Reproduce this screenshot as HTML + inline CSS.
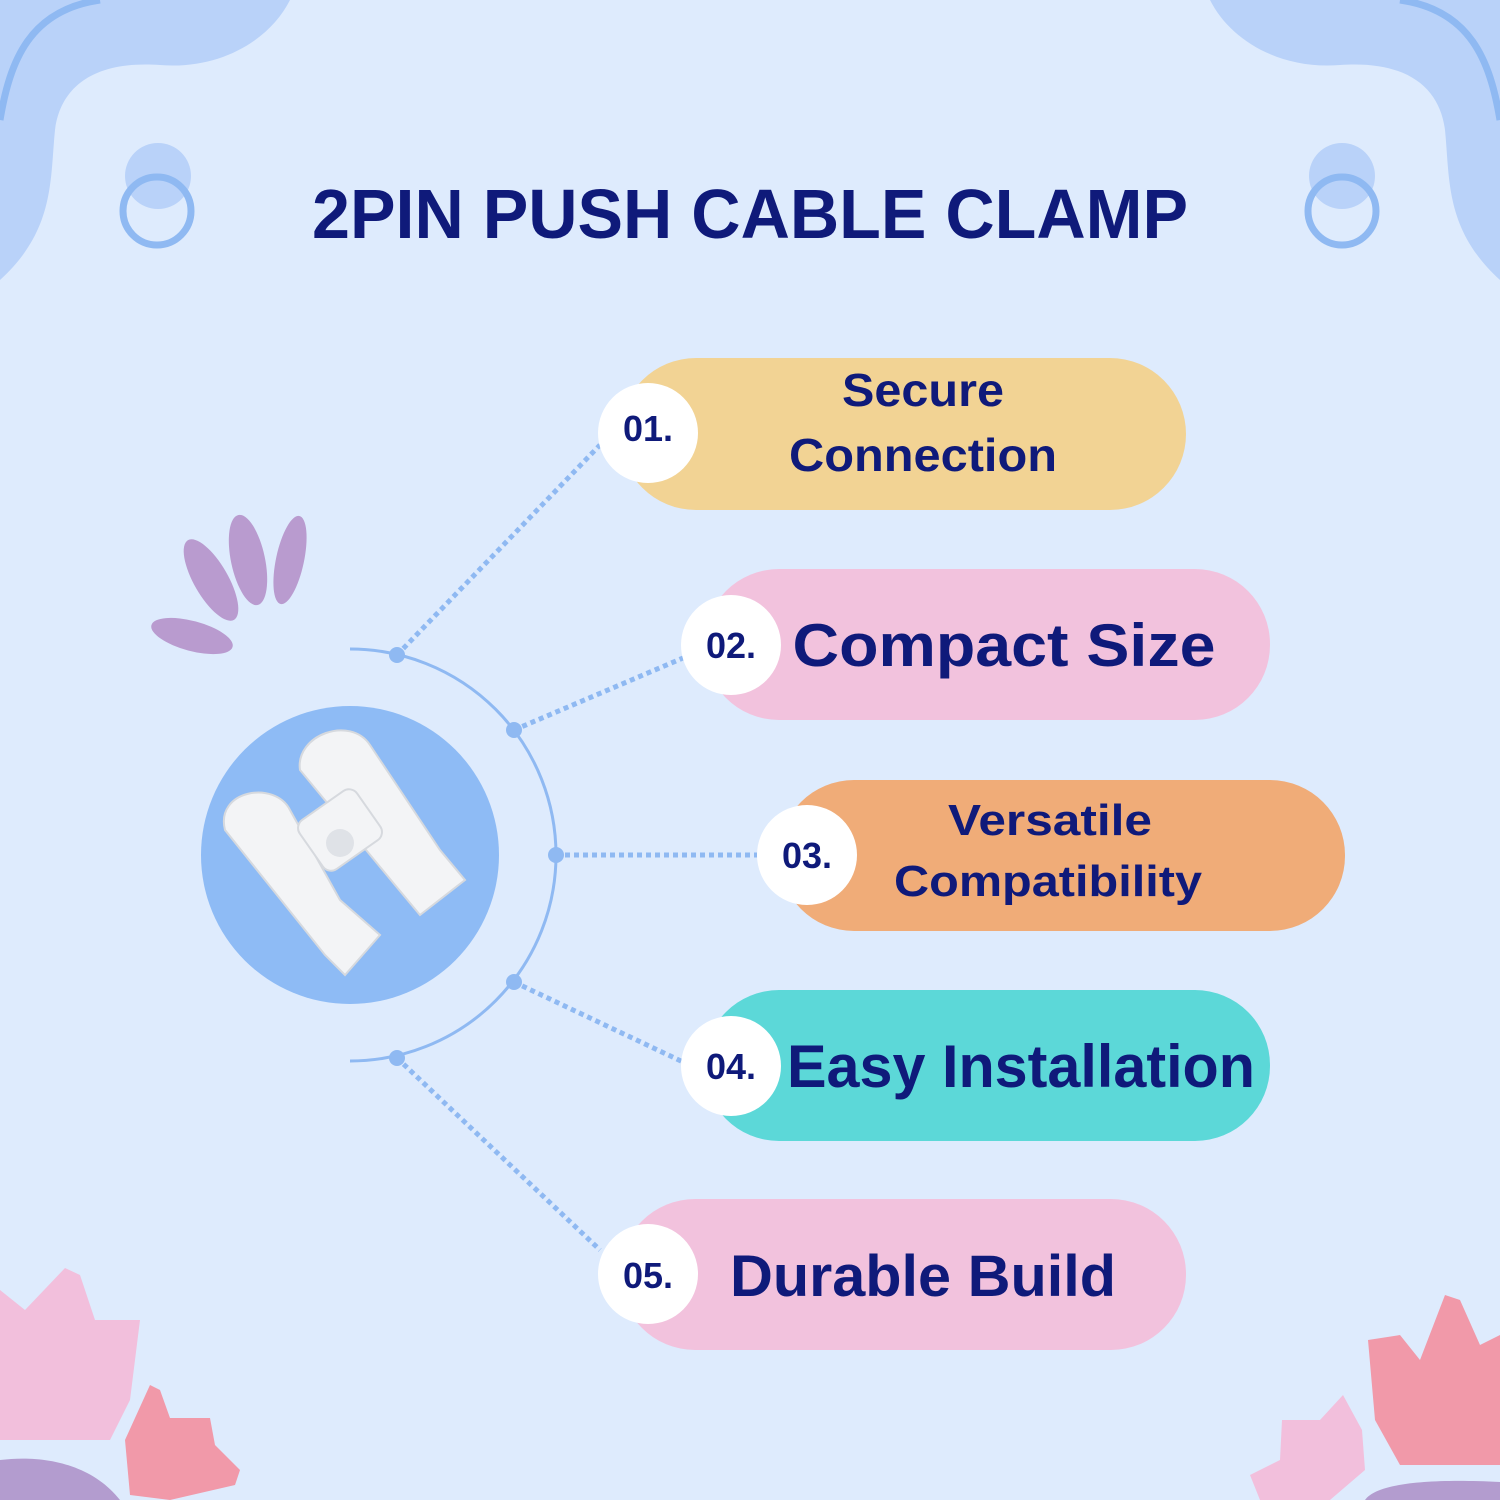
<!DOCTYPE html>
<html><head><meta charset="utf-8"><style>
html,body{margin:0;padding:0;background:#deebfd;}
svg{display:block;}
text{font-family:"Liberation Sans",sans-serif;font-weight:bold;fill:#0f1a7a;}
</style></head><body>
<svg width="1500" height="1500" viewBox="0 0 1500 1500" xmlns="http://www.w3.org/2000/svg">
<rect width="1500" height="1500" fill="#deebfd"/>
<!-- top left blob -->
<path d="M0 0 H290 C270 40 220 70 160 65 C90 60 60 90 55 130 C50 180 55 230 0 280 Z" fill="#b9d2f9"/>
<path d="M0 120 C10 60 30 10 100 0" stroke="#8fb9f2" stroke-width="7" fill="none"/>
<!-- top right blob -->
<path d="M1500 0 H1210 C1230 40 1280 70 1340 65 C1410 60 1440 90 1445 130 C1450 180 1445 230 1500 280 Z" fill="#b9d2f9"/>
<path d="M1500 120 C1490 60 1470 10 1400 0" stroke="#8fb9f2" stroke-width="7" fill="none"/>
<circle cx="158" cy="176" r="33" fill="#b9d2f9"/>
<circle cx="157" cy="211" r="34" fill="none" stroke="#8fb9f2" stroke-width="7"/>
<circle cx="1342" cy="176" r="33" fill="#b9d2f9"/>
<circle cx="1342" cy="211" r="34" fill="none" stroke="#8fb9f2" stroke-width="7"/>
<text x="750" y="238" text-anchor="middle" font-size="70" textLength="876" lengthAdjust="spacingAndGlyphs">2PIN PUSH CABLE CLAMP</text>
<!-- leaves -->
<g fill="#b99bcf">
<ellipse cx="211" cy="580" rx="17" ry="46" transform="rotate(-30 211 580)"/>
<ellipse cx="248" cy="560" rx="17" ry="46" transform="rotate(-12 248 560)"/>
<ellipse cx="290" cy="560" rx="14" ry="45" transform="rotate(12 290 560)"/>
<ellipse cx="192" cy="636" rx="42" ry="15" transform="rotate(15 192 636)"/>
</g>
<!-- bottom decor -->
<path d="M0 1290 L25 1310 L65 1268 L80 1275 L95 1320 L140 1320 L130 1400 L110 1440 L0 1440 Z" fill="#f2bfdc"/>
<path d="M0 1460 C40 1455 90 1462 120 1500 L0 1500 Z" fill="#b39ccf"/>
<path d="M125 1440 L150 1385 L160 1390 L170 1418 L210 1418 L215 1445 L240 1470 L235 1485 L170 1500 L130 1495 Z" fill="#f199a9"/>
<path d="M1368 1340 L1400 1335 L1420 1360 L1445 1295 L1460 1300 L1480 1345 L1500 1335 L1500 1465 L1400 1465 L1375 1420 Z" fill="#f199a9"/>
<path d="M1250 1475 L1280 1460 L1282 1420 L1320 1420 L1343 1395 L1362 1430 L1365 1470 L1330 1500 L1260 1500 Z" fill="#f2bfdc"/>
<path d="M1365 1500 C1375 1485 1420 1478 1500 1482 L1500 1500 Z" fill="#b39ccf"/>
<!-- arc -->
<path d="M350 649 A206 206 0 0 1 350 1061" fill="none" stroke="#8fb9f2" stroke-width="3"/>
<g stroke="#8fb9f2" stroke-width="5" stroke-dasharray="5 4" fill="none">
<line x1="397" y1="655" x2="600" y2="445"/>
<line x1="514" y1="730" x2="683" y2="658"/>
<line x1="556" y1="855" x2="757" y2="855"/>
<line x1="514" y1="982" x2="683" y2="1062"/>
<line x1="397" y1="1058" x2="600" y2="1250"/>
</g>
<g fill="#8fb9f2">
<circle cx="397" cy="655" r="8"/><circle cx="514" cy="730" r="8"/><circle cx="556" cy="855" r="8"/><circle cx="514" cy="982" r="8"/><circle cx="397" cy="1058" r="8"/>
</g>
<!-- product -->
<circle cx="350" cy="855" r="149" fill="#8ebbf5"/>
<g fill="#f3f4f6" stroke="#d6d9de" stroke-width="2">
<path d="M300 770 C295 735 350 715 370 745 L440 850 L465 880 L420 915 L395 885 Z"/>
<path d="M225 830 C215 790 275 780 290 810 L340 900 L380 935 L345 975 L325 955 Z"/>
<rect x="305" y="800" width="70" height="60" rx="10" transform="rotate(-35 340 830)"/>
</g>
<circle cx="340" cy="843" r="14" fill="#dfe2e7"/>
<!-- pills -->
<rect x="620" y="358" width="566" height="152" rx="76" fill="#f2d394"/>
<rect x="704" y="569" width="566" height="151" rx="75" fill="#f2c2dd"/>
<rect x="779" y="780" width="566" height="151" rx="75" fill="#f0ac78"/>
<rect x="704" y="990" width="566" height="151" rx="75" fill="#5cd8d8"/>
<rect x="620" y="1199" width="566" height="151" rx="75" fill="#f2c2dd"/>
<g fill="#ffffff">
<circle cx="648" cy="433" r="50"/><circle cx="731" cy="645" r="50"/><circle cx="807" cy="855" r="50"/><circle cx="731" cy="1066" r="50"/><circle cx="648" cy="1274" r="50"/>
</g>
<g font-size="36" text-anchor="middle">
<text x="648" y="441">01.</text><text x="731" y="658">02.</text><text x="807" y="868">03.</text><text x="731" y="1079">04.</text><text x="648" y="1288">05.</text>
</g>
<text x="923" y="406" font-size="46" text-anchor="middle" textLength="162" lengthAdjust="spacingAndGlyphs">Secure</text>
<text x="923" y="471" font-size="46" text-anchor="middle" textLength="268" lengthAdjust="spacingAndGlyphs">Connection</text>
<text x="1004" y="666" font-size="60" text-anchor="middle" textLength="423" lengthAdjust="spacingAndGlyphs">Compact Size</text>
<text x="1050" y="835" font-size="44" text-anchor="middle" textLength="204" lengthAdjust="spacingAndGlyphs">Versatile</text>
<text x="1048" y="896" font-size="44" text-anchor="middle" textLength="308" lengthAdjust="spacingAndGlyphs">Compatibility</text>
<text x="1021" y="1087" font-size="60" text-anchor="middle" textLength="468" lengthAdjust="spacingAndGlyphs">Easy Installation</text>
<text x="923" y="1296" font-size="58" text-anchor="middle" textLength="386" lengthAdjust="spacingAndGlyphs">Durable Build</text>
</svg>
</body></html>
